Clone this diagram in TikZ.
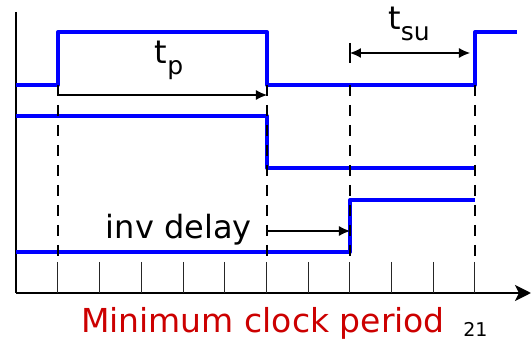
\documentclass[tikz,border=0pt]{standalone}
\usepackage{fontspec}
\setmainfont{DejaVu Sans}
\usetikzlibrary{arrows.meta}
\definecolor{wireblue}{RGB}{0,0,255}
\definecolor{titlered}{RGB}{204,0,0}
\newcommand{\lowsub}[1]{\raisebox{-0.33em}{\fontsize{12.5}{14}\selectfont #1}}
\begin{document}
\begin{tikzpicture}[x=0.5pt, y=-0.5pt, >={Latex[length=5.5pt,width=5pt]}, line join=round,
    wire/.style={wireblue, line width=2pt},
    guide/.style={line width=1.1pt, dash pattern=on 5.5pt off 4.5pt},
    tickmark/.style={line width=0.5pt, black!85},
    dim/.style={line width=0.6pt},
    lbl/.style={font=\fontsize{16}{19}\selectfont, inner sep=0pt}]
    \useasboundingbox (0,0) rectangle (532,342);
    % axes
    \coordinate (O) at (16,293);
    \coordinate (Ytop) at (16,12);
    \coordinate (Xend) at (531,293);
    \draw[line width=1.2pt] (Ytop) -- (O);
    \draw[line width=1.2pt, -{Stealth[length=8pt,width=8pt,inset=2pt]}] (O) -- (Xend);
    \foreach \k in {0,...,10} {
        \draw[tickmark] (58+41.7*\k, 262) -- (58+41.7*\k, 293);
    }
    % waveforms
    \draw[wire] (16,85) -- (58,85) -- (58,32) -- (267,32) -- (267,85) -- (475,85) -- (475,32) -- (517,32);
    \draw[wire] (16,116) -- (267,116) -- (267,168) -- (475,168);
    \draw[wire] (16,252) -- (350,252) -- (350,200) -- (475,200);
    % dashed guides
    \foreach \x/\id in {58/ga, 267/gb, 350/gc, 475/gd} {
        \coordinate (\id) at (\x,85);
        \draw[guide] (\id) -- (\x,262);
    }
    % timing arrows
    \coordinate (tpL) at (58,95);
    \coordinate (tpR) at (267,95);
    \draw[dim, ->] (tpL) -- (tpR);
    \node[lbl, anchor=base] (tp) at (169,64) {t\lowsub{p}};
    \coordinate (suL) at (350,53);
    \coordinate (suR) at (470,53);
    \draw[dim] (350,43) -- (350,63);
    \draw[dim, <->] (suL) -- (suR);
    \node[lbl, anchor=base] (tsu) at (409,30) {t\lowsub{su}};
    \coordinate (invL) at (267,231);
    \coordinate (invR) at (350,231);
    \draw[dim, ->] (invL) -- (invR);
    \node[lbl, anchor=base east] (inv) at (252,239) {inv delay};
    % caption
    \node[lbl, font=\fontsize{16.5}{19}\selectfont, titlered, anchor=base] (title) at (263,333) {Minimum clock period};
    \node[inner sep=0pt, font=\fontsize{9.5}{11}\selectfont, anchor=base west] (page) at (463,337) {21};
\end{tikzpicture}
\end{document}
